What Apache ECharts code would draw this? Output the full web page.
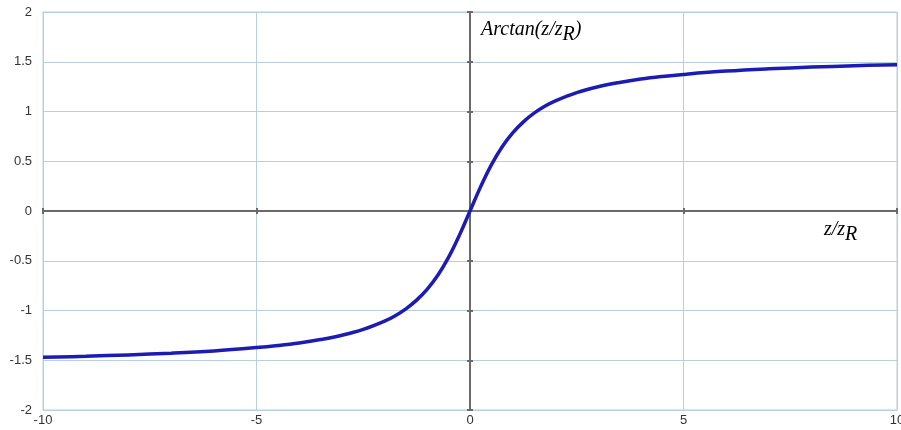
<!DOCTYPE html>
<html><head><meta charset="utf-8">
<script src="https://cdn.jsdelivr.net/npm/echarts@6/dist/echarts.min.js"></script>
<style>html,body{margin:0;padding:0;background:#fff}#c{width:901px;height:430px}</style>
</head><body><div id="c"></div>
<script>
// values
const zValues = [-10,-9,-8,-7,-6,-5,-4.5,-4,-3.5,-3,-2.5,-2,-1.75,-1.5,-1.25,-1,-0.75,-0.5,-0.25,0,0.25,0.5,0.75,1,1.25,1.5,1.75,2,2.5,3,3.5,4,4.5,5,6,7,8,9,10];
const arctanValues = [-1.471,-1.460,-1.446,-1.429,-1.406,-1.373,-1.352,-1.326,-1.292,-1.249,-1.190,-1.107,-1.052,-0.983,-0.896,-0.785,-0.644,-0.464,-0.245,0,0.245,0.464,0.644,0.785,0.896,0.983,1.052,1.107,1.190,1.249,1.292,1.326,1.352,1.373,1.406,1.429,1.446,1.460,1.471];
const xTicks = [-10,-5,0,5,10];
const yTicks = [-2,-1.5,-1,-0.5,0,0.5,1,1.5,2];

const gridCol = '#b9cfe0';
const axisCol = '#6a6a6a';
const chart = echarts.init(document.getElementById('c'));
const zeroX = (inside) => ({
  type:'value', min:-10, max:10, interval:5, position:'bottom',
  axisLine:{show:true, onZero:true, onZeroAxisIndex:0, lineStyle:{color:axisCol, width:2}},
  axisTick:{show:true, inside:inside, length:3, lineStyle:{color:axisCol, width:2}},
  axisLabel:{show:false}, splitLine:{show:false}
});
const zeroY = (inside) => ({
  type:'value', min:-2, max:2, interval:0.5, position:'left',
  axisLine:{show:true, onZero:true, onZeroAxisIndex:0, lineStyle:{color:axisCol, width:2}},
  axisTick:{show:true, inside:inside, length:3, lineStyle:{color:axisCol, width:2}},
  axisLabel:{show:false}, splitLine:{show:false}
});
chart.setOption({
  animation:false,
  grid:{left:43, right:4, top:12, bottom:20, show:true, borderColor:gridCol, borderWidth:1,
        containLabel:false, outerBoundsMode:'none'},
  xAxis:[
    {type:'value', min:-10, max:10, interval:5, position:'bottom',
     axisLine:{onZero:false, lineStyle:{color:gridCol}}, axisTick:{show:false},
     axisLabel:{color:'#333', fontSize:13, fontFamily:'Liberation Sans', margin:4,
       formatter:v=>xTicks.includes(v)?String(v):''},
     splitLine:{show:true, lineStyle:{color:gridCol, width:1}}},
    zeroX(true), zeroX(false)
  ],
  yAxis:[
    {type:'value', min:-2, max:2, interval:0.5,
     axisLine:{onZero:false, lineStyle:{color:gridCol}}, axisTick:{show:false},
     axisLabel:{color:'#333', fontSize:13, fontFamily:'Liberation Sans', margin:11,
       formatter:v=>yTicks.includes(v)?String(v):''},
     splitLine:{show:true, lineStyle:{color:gridCol, width:1}}},
    zeroY(true), zeroY(false)
  ],
  graphic:[
    {type:'text', left:481, top:20, style:{
      text:'{i|Arctan(z/z}{s|R}{i|)}',
      rich:{i:{fontFamily:'Liberation Serif', fontStyle:'italic', fontSize:20, fill:'#000'},
            s:{fontFamily:'Liberation Serif', fontStyle:'italic', fontSize:20, fill:'#000', padding:[10,0,0,0]}}
    }},
    {type:'text', left:824, top:220, style:{
      text:'{i|z/z}{s|R}',
      rich:{i:{fontFamily:'Liberation Serif', fontStyle:'italic', fontSize:20, fill:'#000'},
            s:{fontFamily:'Liberation Serif', fontStyle:'italic', fontSize:20, fill:'#000', padding:[10,0,0,0]}}
    }}
  ],
  series:[{
    type:'line', xAxisIndex:0, yAxisIndex:0, smooth:0.4, showSymbol:false,
    lineStyle:{color:'#1c1cb4', width:3.5},
    data: zValues.map((z,i)=>[z, arctanValues[i]])
  }]
});
</script></body></html>
